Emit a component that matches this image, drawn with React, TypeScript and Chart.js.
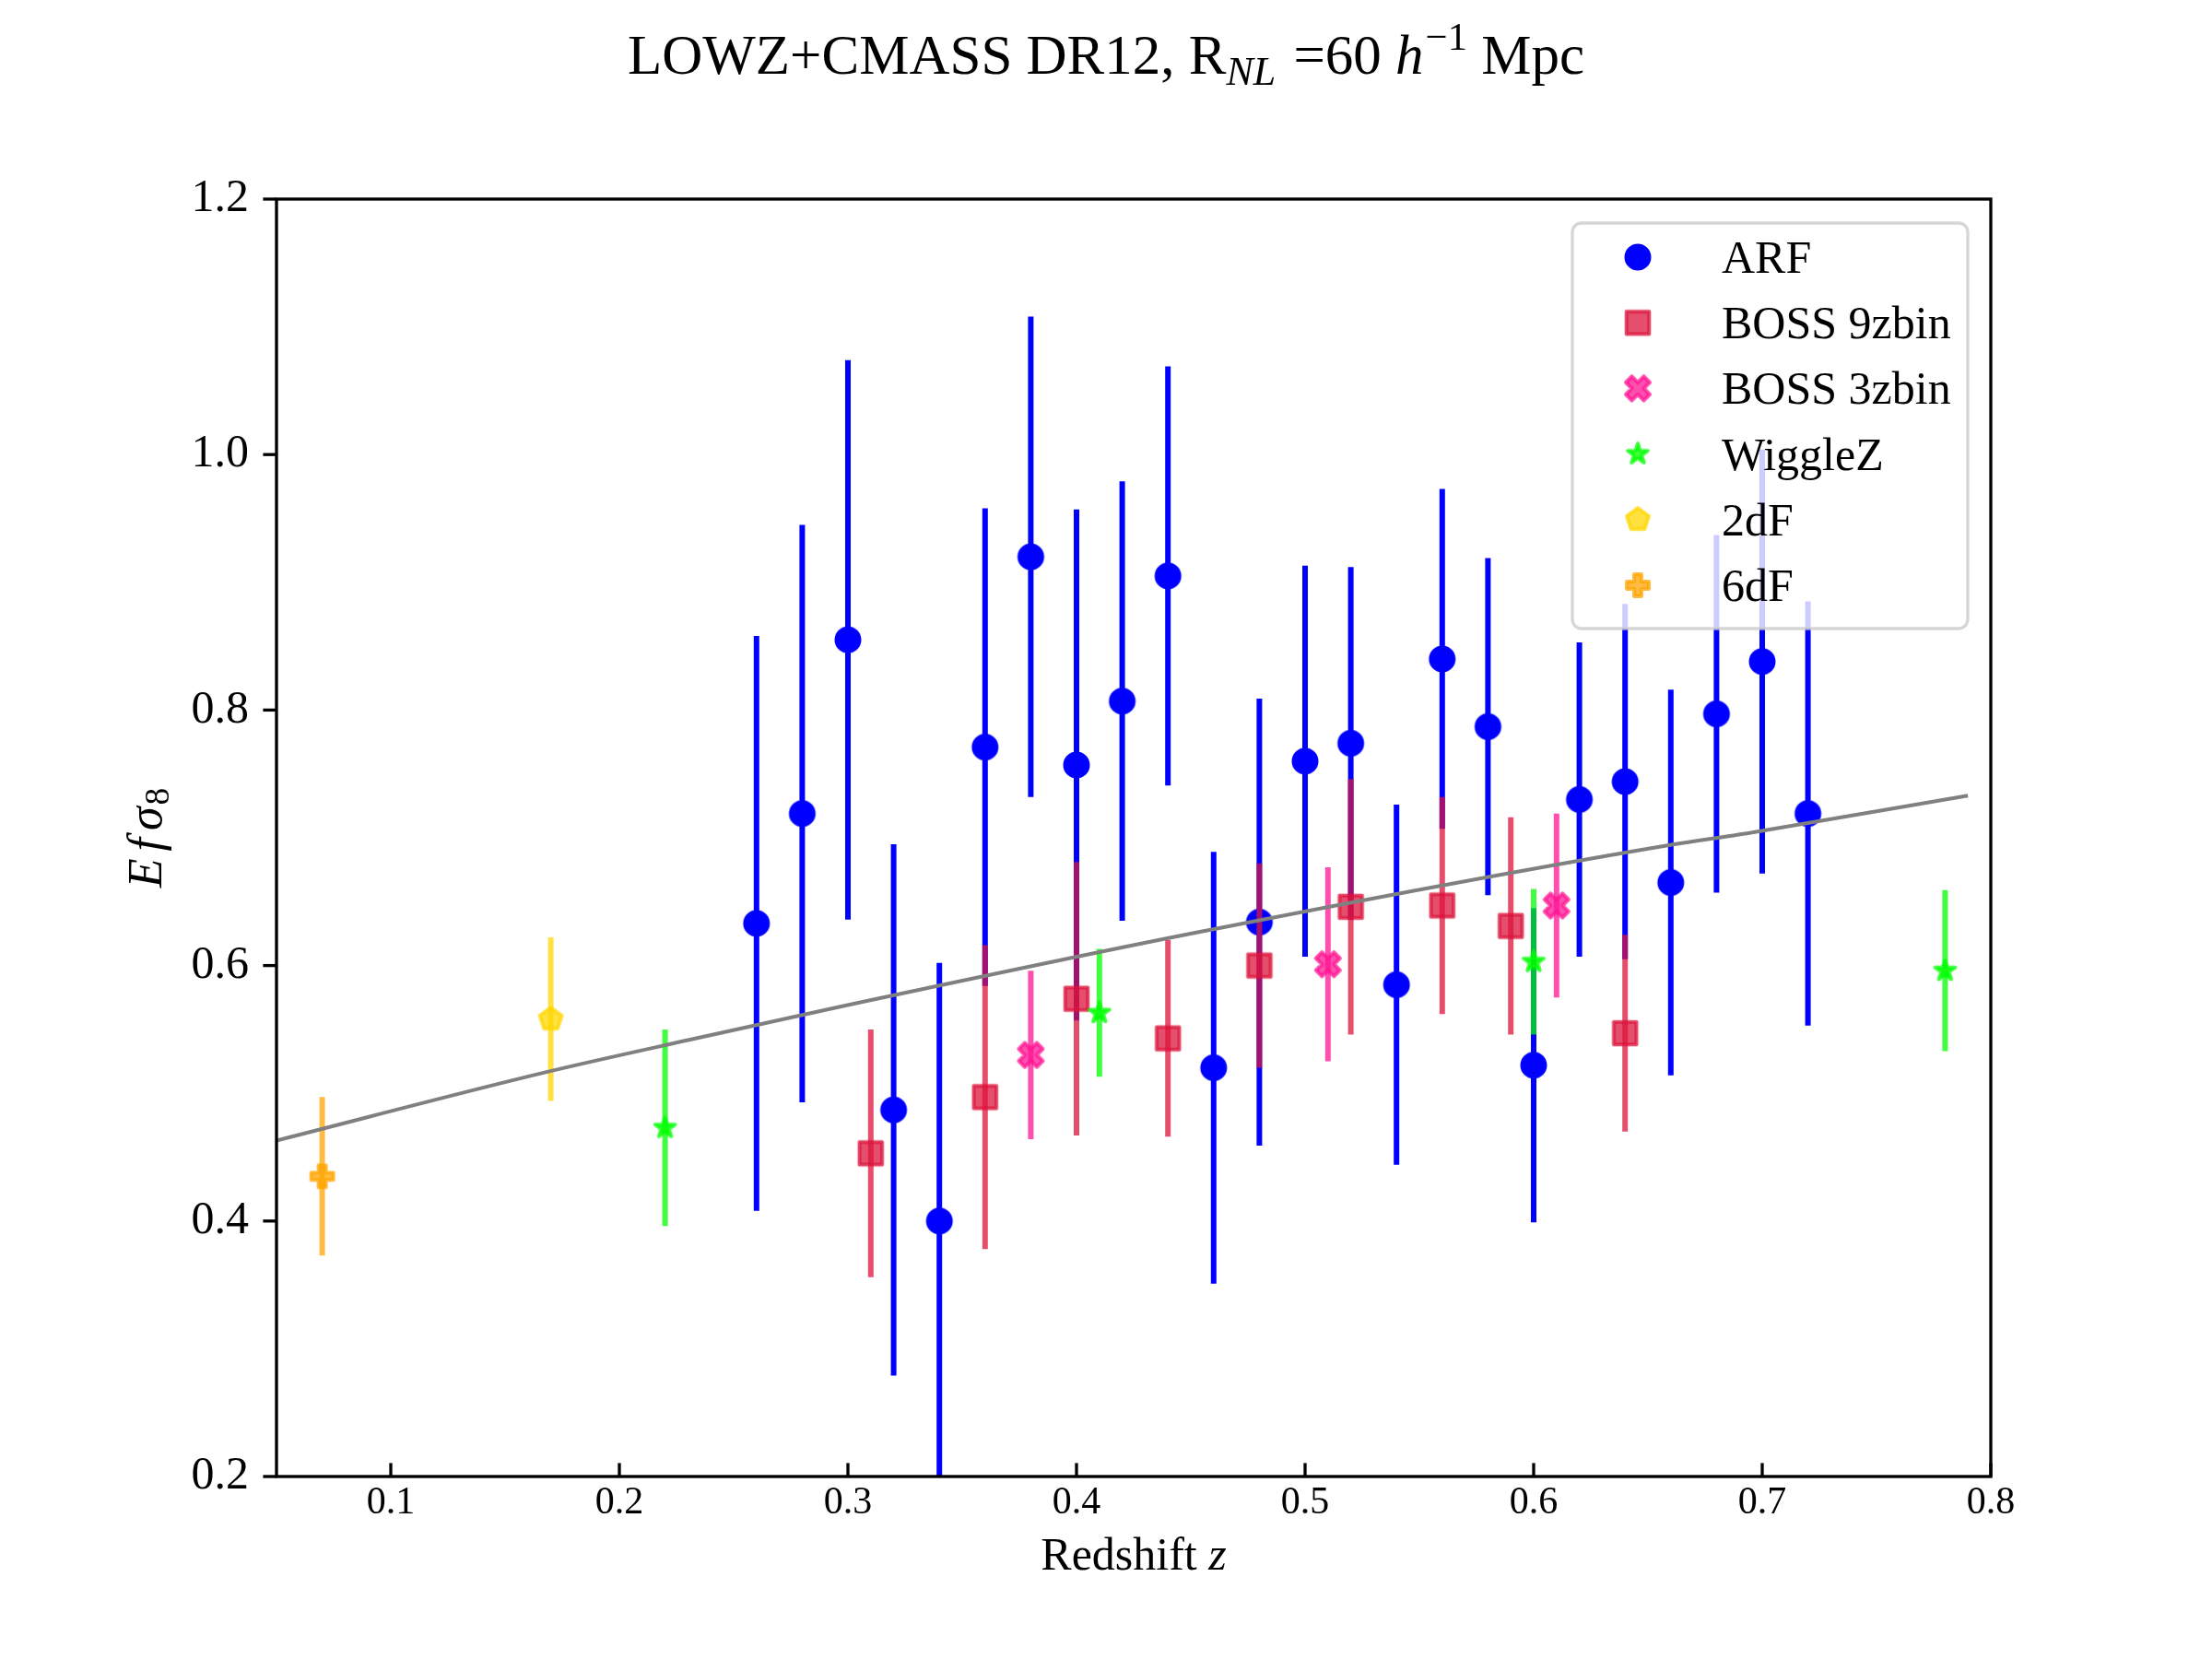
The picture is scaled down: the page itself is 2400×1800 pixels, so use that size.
import React, { useEffect, useRef } from "react";
import { Chart, registerables } from "chart.js";

Chart.register(...registerables);

// values
const arfZ = [0.26, 0.28, 0.3, 0.32, 0.34, 0.36, 0.38, 0.4, 0.42, 0.44, 0.46, 0.48, 0.5, 0.52, 0.54, 0.56, 0.58, 0.6, 0.62, 0.64, 0.66, 0.68, 0.7, 0.72];
const arfVal = [0.633, 0.719, 0.855, 0.487, 0.4, 0.771, 0.92, 0.757, 0.807, 0.905, 0.52, 0.634, 0.76, 0.774, 0.585, 0.84, 0.787, 0.522, 0.73, 0.744, 0.665, 0.797, 0.838, 0.719];
const arfErr = [0.225, 0.226, 0.219, 0.208, 0.202, 0.187, 0.188, 0.2, 0.172, 0.164, 0.169, 0.175, 0.153, 0.138, 0.141, 0.133, 0.132, 0.123, 0.123, 0.139, 0.151, 0.14, 0.166, 0.166];

const boss9Z = [0.31, 0.36, 0.4, 0.44, 0.48, 0.52, 0.56, 0.59, 0.64];
const boss9Val = [0.453, 0.497, 0.574, 0.543, 0.6, 0.646, 0.647, 0.631, 0.547];
const boss9Err = [0.097, 0.119, 0.107, 0.077, 0.08, 0.1, 0.085, 0.085, 0.077];

const boss3Z = [0.38, 0.51, 0.61];
const boss3Val = [0.53, 0.601, 0.647];
const boss3Err = [0.066, 0.076, 0.072];

const wiggleZ = [0.22, 0.41, 0.6, 0.78];
const wiggleVal = [0.473, 0.563, 0.603, 0.596];
const wiggleErr = [0.077, 0.05, 0.057, 0.063];

const twoDfZ = [0.17];
const twoDfVal = [0.558];
const twoDfErr = [0.064];

const sixDfZ = [0.07];
const sixDfVal = [0.435];
const sixDfErr = [0.062];

// grey model curve, points read along it
const curveZ = [0.05, 0.169, 0.231, 0.292, 0.453, 0.655, 0.695, 0.79];
const curveVal = [0.463, 0.517, 0.542, 0.566, 0.626, 0.693, 0.704, 0.733];

const xTicks = [0.1, 0.2, 0.3, 0.4, 0.5, 0.6, 0.7, 0.8];
const yTicks = [0.2, 0.4, 0.6, 0.8, 1.0, 1.2];

const SERIF = '"Liberation Serif", "Times New Roman", serif';

type Shape = "circle" | "square" | "x" | "star" | "pentagon" | "plus";

function markerPath(ctx: CanvasRenderingContext2D, shape: Shape) {
  ctx.beginPath();
  if (shape === "circle") {
    ctx.arc(0, 0, 12.5, 0, Math.PI * 2);
    return;
  }
  if (shape === "square") {
    ctx.rect(-12.3, -12.3, 24.6, 24.6);
    return;
  }
  let pts: number[][] = [];
  if (shape === "x" || shape === "plus") {
    const L = shape === "x" ? 27.6 : 24;
    const a = L / 2, b = L / 6;
    pts = [[-b, -a], [b, -a], [b, -b], [a, -b], [a, b], [b, b], [b, a], [-b, a], [-b, b], [-a, b], [-a, -b], [-b, -b]];
    if (shape === "x") {
      const c = Math.cos(Math.PI / 4), s = Math.sin(Math.PI / 4);
      pts = pts.map(([x, y]) => [x * c - y * s, x * s + y * c]);
    }
  } else if (shape === "star") {
    const R = 11.5, r = R * 0.382;
    for (let i = 0; i < 10; i++) {
      const ang = -Math.PI / 2 + (i * Math.PI) / 5;
      const rr = i % 2 === 0 ? R : r;
      pts.push([rr * Math.cos(ang), rr * Math.sin(ang)]);
    }
  } else {
    const R = 12.6;
    for (let i = 0; i < 5; i++) {
      const ang = -Math.PI / 2 + (i * 2 * Math.PI) / 5;
      pts.push([R * Math.cos(ang), R * Math.sin(ang)]);
    }
  }
  pts.forEach(([x, y], i) => (i === 0 ? ctx.moveTo(x, y) : ctx.lineTo(x, y)));
  ctx.closePath();
}

function makeMarker(shape: Shape, color: string) {
  const c = document.createElement("canvas");
  c.width = 44;
  c.height = 44;
  const ctx = c.getContext("2d")!;
  ctx.translate(22, 22);
  markerPath(ctx, shape);
  ctx.fillStyle = color;
  ctx.fill();
  ctx.lineWidth = 4;
  ctx.lineJoin = "round";
  ctx.strokeStyle = color;
  ctx.stroke();
  return c;
}

type Run = { t: string; italic?: boolean; scale?: number; dy?: number; gap?: number };

function drawRuns(ctx: CanvasRenderingContext2D, runs: Run[], x: number, y: number, size: number, align: "center" | "left") {
  const font = (r: Run) => `${r.italic ? "italic " : ""}${size * (r.scale ?? 1)}px ${SERIF}`;
  const widths = runs.map((r) => {
    ctx.font = font(r);
    return ctx.measureText(r.t).width + (r.gap ?? 0);
  });
  const total = widths.reduce((a, b) => a + b, 0);
  let cx = align === "center" ? x - total / 2 : x;
  ctx.textAlign = "left";
  ctx.textBaseline = "alphabetic";
  runs.forEach((r, i) => {
    ctx.font = font(r);
    ctx.fillText(r.t, cx, y + (r.dy ?? 0));
    cx += widths[i];
  });
}

const errorBars = {
  id: "errorBars",
  beforeDatasetDraw(chart: any, args: any) {
    const ds = chart.data.datasets[args.index];
    if (!ds.errors) return;
    const { ctx, chartArea: a, scales } = chart;
    ctx.save();
    ctx.beginPath();
    ctx.rect(a.left, a.top, a.right - a.left, a.bottom - a.top);
    ctx.clip();
    ctx.strokeStyle = ds.barColor;
    ctx.lineWidth = 6;
    ds.data.forEach((p: { x: number; y: number }, i: number) => {
      const x = scales.x.getPixelForValue(p.x);
      ctx.beginPath();
      ctx.moveTo(x, scales.y.getPixelForValue(p.y - ds.errors[i]));
      ctx.lineTo(x, scales.y.getPixelForValue(p.y + ds.errors[i]));
      ctx.stroke();
    });
    ctx.restore();
  },
};

const decorations = {
  id: "decorations",
  afterDraw(chart: any) {
    const { ctx, chartArea: a, scales } = chart;
    ctx.save();
    ctx.strokeStyle = "#000";
    ctx.lineWidth = 3.33;
    ctx.lineCap = "butt";
    yTicks.forEach((v) => {
      const y = scales.y.getPixelForValue(v);
      ctx.beginPath();
      ctx.moveTo(a.left - 14.6, y);
      ctx.lineTo(a.left, y);
      ctx.stroke();
    });
    xTicks.forEach((v) => {
      const x = scales.x.getPixelForValue(v);
      ctx.beginPath();
      ctx.moveTo(x, a.bottom);
      ctx.lineTo(x, a.bottom - 14.6);
      ctx.stroke();
    });
    ctx.lineJoin = "miter";
    ctx.strokeRect(a.left, a.top, a.right - a.left, a.bottom - a.top);

    ctx.fillStyle = "#000";
    // title
    const S = 61;
    drawRuns(
      ctx,
      [
        { t: "LOWZ+CMASS DR12, R" },
        { t: "NL", italic: true, scale: 0.72, dy: 0.2 * S, gap: 4 },
        { t: " =60 " },
        { t: "h", italic: true, gap: 2 },
        { t: "\u22121", scale: 0.7, dy: -0.42 * S },
        { t: " Mpc" },
      ],
      1200,
      80,
      S,
      "center"
    );
    // x label
    drawRuns(ctx, [{ t: "Redshift " }, { t: "z", italic: true }], (a.left + a.right) / 2, 1703, 50, "center");
    // y label
    ctx.save();
    ctx.translate(175, (a.top + a.bottom) / 2);
    ctx.rotate(-Math.PI / 2);
    drawRuns(
      ctx,
      [
        { t: "E", italic: true, gap: 8 },
        { t: "f", italic: true, gap: 8 },
        { t: "\u03c3", italic: true, gap: 2 },
        { t: "8", scale: 0.72, dy: 8 },
      ],
      0,
      0,
      52,
      "center"
    );
    ctx.restore();

    // legend
    const lx = 1706, ly = 242, lw = 429, lh = 440, rad = 10;
    ctx.beginPath();
    ctx.moveTo(lx + rad, ly);
    ctx.arcTo(lx + lw, ly, lx + lw, ly + lh, rad);
    ctx.arcTo(lx + lw, ly + lh, lx, ly + lh, rad);
    ctx.arcTo(lx, ly + lh, lx, ly, rad);
    ctx.arcTo(lx, ly, lx + lw, ly, rad);
    ctx.closePath();
    ctx.fillStyle = "rgba(255,255,255,0.8)";
    ctx.fill();
    ctx.strokeStyle = "rgba(204,204,204,0.8)";
    ctx.lineWidth = 3.33;
    ctx.stroke();

    const entries = chart.data.datasets.filter((d: any) => d.errors);
    entries.forEach((d: any, i: number) => {
      const cy = 279 + i * 71.2;
      const img = d.pointStyle as HTMLCanvasElement;
      ctx.drawImage(img, 1777 - img.width / 2, cy - img.height / 2);
      ctx.fillStyle = "#000";
      ctx.font = `50px ${SERIF}`;
      ctx.textAlign = "left";
      ctx.textBaseline = "alphabetic";
      ctx.fillText(d.label, 1868, cy + 17);
    });
    ctx.restore();
  },
};

const pts = (xs: number[], ys: number[]) => xs.map((x, i) => ({ x, y: ys[i] }));

export default function App() {
  const canvasRef = useRef<HTMLCanvasElement>(null);
  const chartRef = useRef<Chart | null>(null);

  useEffect(() => {
    document.body.style.margin = "0";
    if (!canvasRef.current) return;
    if (chartRef.current) chartRef.current.destroy();

    const series: { label: string; z: number[]; v: number[]; e: number[]; shape: Shape; color: string }[] = [
      { label: "ARF", z: arfZ, v: arfVal, e: arfErr, shape: "circle", color: "rgba(0,0,255,1)" },
      { label: "BOSS 9zbin", z: boss9Z, v: boss9Val, e: boss9Err, shape: "square", color: "rgba(220,20,60,0.75)" },
      { label: "BOSS 3zbin", z: boss3Z, v: boss3Val, e: boss3Err, shape: "x", color: "rgba(255,20,147,0.75)" },
      { label: "WiggleZ", z: wiggleZ, v: wiggleVal, e: wiggleErr, shape: "star", color: "rgba(0,255,0,0.75)" },
      { label: "2dF", z: twoDfZ, v: twoDfVal, e: twoDfErr, shape: "pentagon", color: "rgba(255,215,0,0.75)" },
      { label: "6dF", z: sixDfZ, v: sixDfVal, e: sixDfErr, shape: "plus", color: "rgba(255,165,0,0.75)" },
    ];

    const datasets: any[] = series.map((s, i) => ({
      label: s.label,
      data: pts(s.z, s.v),
      errors: s.e,
      barColor: s.color,
      pointStyle: makeMarker(s.shape, s.color),
      pointRadius: 14,
      showLine: false,
      order: 10 - i,
    }));
    datasets.push({
      label: "model",
      data: pts(curveZ, curveVal),
      showLine: true,
      borderColor: "#808080",
      borderWidth: 4,
      pointRadius: 0,
      cubicInterpolationMode: "monotone",
      fill: false,
      order: 1,
    });

    chartRef.current = new Chart(canvasRef.current, {
      type: "scatter",
      data: { datasets },
      options: {
        animation: false,
        responsive: false,
        devicePixelRatio: 1,
        events: [],
        layout: { padding: { left: 0, right: 240, top: 216, bottom: 0 } },
        plugins: {
          legend: { display: false },
          title: { display: false },
          tooltip: { enabled: false },
        },
        scales: {
          x: {
            type: "linear",
            min: 0.05,
            max: 0.8,
            grid: { display: false, drawTicks: false },
            border: { display: false },
            afterBuildTicks: (s: any) => {
              s.ticks = xTicks.map((value) => ({ value }));
            },
            afterFit: (s: any) => {
              s.height = 198;
            },
            ticks: {
              color: "#000",
              font: { family: SERIF, size: 42 },
              padding: 4,
              maxRotation: 0,
              autoSkip: false,
              callback: (v: any) => Number(v).toFixed(1),
            },
          },
          y: {
            type: "linear",
            min: 0.2,
            max: 1.2,
            grid: { display: false, drawTicks: false },
            border: { display: false },
            afterBuildTicks: (s: any) => {
              s.ticks = yTicks.map((value) => ({ value }));
            },
            afterFit: (s: any) => {
              s.width = 300;
            },
            ticks: {
              color: "#000",
              font: { family: SERIF, size: 50 },
              padding: 30,
              autoSkip: false,
              callback: (v: any) => Number(v).toFixed(1),
            },
          },
        },
      },
      plugins: [errorBars, decorations],
    });

    return () => {
      if (chartRef.current) {
        chartRef.current.destroy();
        chartRef.current = null;
      }
    };
  }, []);

  return (
    <div style={{ width: 2400, height: 1800, background: "#fff" }}>
      <canvas ref={canvasRef} width={2400} height={1800} style={{ display: "block", width: 2400, height: 1800 }} />
    </div>
  );
}
